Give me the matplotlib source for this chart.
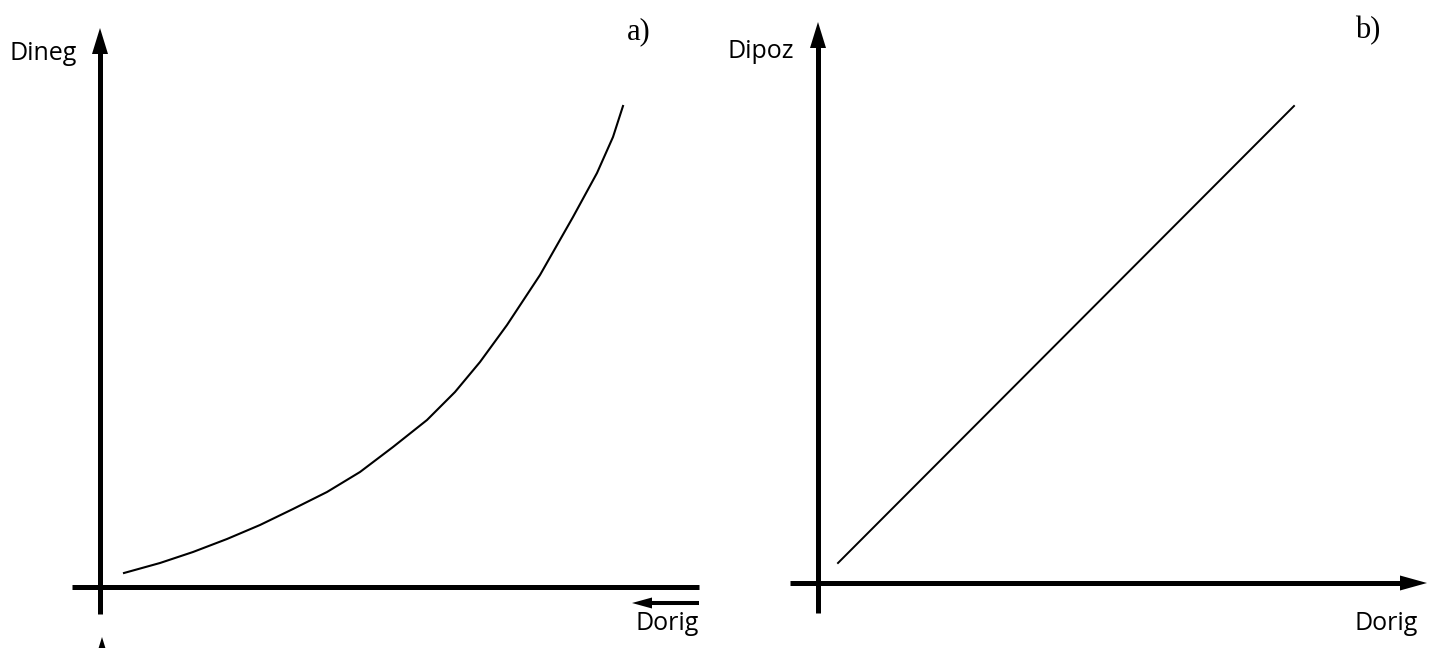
import matplotlib.pyplot as plt
from matplotlib.patches import Polygon

# canvas in pixel units, y grows downward
W, H = 1435, 648

# panel a) curve: Dorig vs Dineg
curve_a_x = [124, 160, 193, 227, 260, 293, 327, 360, 393, 427, 455, 480, 507,
             540, 573, 597, 613, 623]
curve_a_y = [573, 563, 552, 539, 525, 509, 492, 472, 447, 420, 392, 362, 325,
             275, 217, 173, 137, 106]

# panel b) straight line: Dorig vs Dipoz
line_b_x = [838, 1294]
line_b_y = [563, 106]

AXIS_LW = 3.6


def arrow(ax, x0, y0, x1, y1, lw=AXIS_LW, head_len=26, head_w=16):
    """line from (x0, y0) to tip (x1, y1) with a filled triangular head"""
    dx, dy = x1 - x0, y1 - y0
    n = (dx ** 2 + dy ** 2) ** 0.5
    ux, uy = dx / n, dy / n
    bx, by = x1 - ux * head_len, y1 - uy * head_len
    ax.plot([x0, bx + ux * 2], [y0, by + uy * 2], color="black", lw=lw,
            solid_capstyle="butt")
    px, py = -uy * head_w / 2, ux * head_w / 2
    ax.add_patch(Polygon([(x1, y1), (bx + px, by + py), (bx - px, by - py)],
                         closed=True, color="black", lw=0))


fig = plt.figure(figsize=(W / 100, H / 100), dpi=100)
ax = fig.add_axes([0, 0, 1, 1])
ax.set_xlim(0, W)
ax.set_ylim(H, 0)
ax.axis("off")

sans = dict(family="Open Sans", fontsize=18, color="black")
serif = dict(family="Liberation Serif", fontsize=22, color="black")

# --- panel a) ---
arrow(ax, 100, 614, 100, 28)
ax.plot([72, 699], [587, 587], color="black", lw=AXIS_LW, solid_capstyle="butt")
arrow(ax, 699, 603, 632, 603, lw=2.9, head_len=20, head_w=11)
arrow(ax, 102, 700, 102, 637, lw=AXIS_LW)
ax.plot(curve_a_x, curve_a_y, color="black", lw=1.5, solid_joinstyle="round")

ax.text(9, 53, "Dineg", ha="left", va="center", **sans)
ax.text(699, 624, "Dorig", ha="right", va="center", **sans)
ax.text(651, 39, "a)", ha="right", va="baseline", **serif)

# --- panel b) ---
arrow(ax, 818, 613, 818, 22)
arrow(ax, 790, 583, 1427, 583, head_len=27, head_w=15)
ax.plot(line_b_x, line_b_y, color="black", lw=1.4)

ax.text(727, 52, "Dipoz", ha="left", va="center", **sans)
ax.text(1418, 624, "Dorig", ha="right", va="center", **sans)
ax.text(1380, 38, "b)", ha="right", va="baseline", **serif)

fig.savefig("out.png", dpi=100)
